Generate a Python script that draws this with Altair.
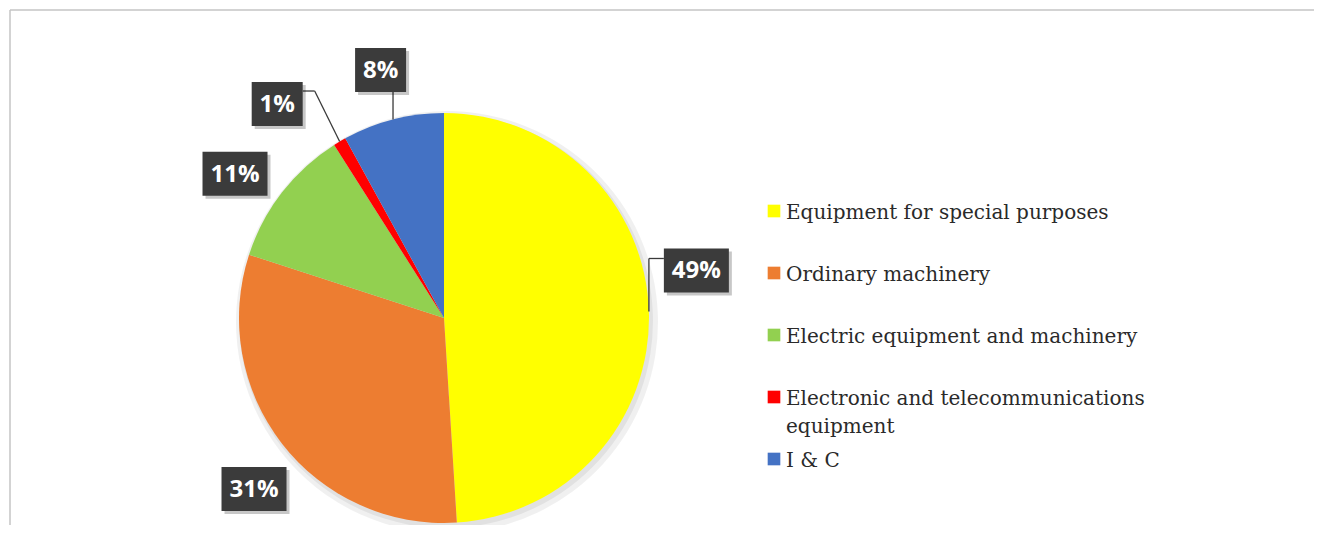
import textwrap
import altair as alt
import pandas as pd

# ---------------- data ----------------
CATEGORIES = [
    "Equipment for special purposes",
    "Ordinary machinery",
    "Electric equipment and machinery",
    "Electronic and telecommunications equipment",
    "I & C",
]
SHARES = [49, 31, 11, 1, 8]
LABELS = ["49%", "31%", "11%", "1%", "8%"]
COLORS = ["#FFFF00", "#ED7D31", "#92D050", "#FF0000", "#4472C4"]

# ---------------- styling / layout ----------------
W, H = 1306, 517
CX, CY, R = 436, 310, 205          # pie centre and radius (px)
RL = 255                           # radius of the data-label boxes
# manual nudges of each data label from its radial spot, and leader style
LABEL_STYLE = {
    "Equipment for special purposes": (-2.5, -39.5, "ur"),
    "Ordinary machinery": (11.5, 14.7, "none"),
    "Electric equipment and machinery": (-7.5, 12.0, "none"),
    "Electronic and telecommunications equipment": (-37.0, 5.5, "dl"),
    "I & C": (0.0, -1.0, "v"),
}

df = pd.DataFrame({
    "cat": CATEGORIES,
    "share": SHARES,
    "label": LABELS,
    "idx": list(range(len(CATEGORIES))),
    "legend_text": ["\n".join(textwrap.wrap(c, 34)) for c in CATEGORIES],
})
df["nx"] = [LABEL_STYLE[c][0] for c in CATEGORIES]
df["ny"] = [LABEL_STYLE[c][1] for c in CATEGORIES]
df["leader"] = [LABEL_STYLE[c][2] for c in CATEGORIES]

color_scale = alt.Scale(domain=CATEGORIES, range=COLORS)
xs = alt.Scale(domain=[0, W], nice=False, zero=False)
ys = alt.Scale(domain=[0, H], nice=False, zero=False, reverse=True)


def X(f):
    return alt.X(f, type="quantitative", scale=xs, axis=None)


def Y(f):
    return alt.Y(f, type="quantitative", scale=ys, axis=None)


base = alt.Chart(df)

geo = (
    base.transform_window(cum="sum(share)", sort=[alt.SortField("idx")], frame=[None, 0])
    .transform_joinaggregate(total="sum(share)")
    .transform_calculate(
        a="2*PI*(datum.cum - datum.share/2)/datum.total",
    )
    .transform_calculate(
        ex=f"{CX} + {R}*sin(datum.a)",
        ey=f"{CY} - {R}*cos(datum.a)",
        lx=f"{CX} + {RL}*sin(datum.a) + datum.nx",
        ly=f"{CY} - {RL}*cos(datum.a) + datum.ny",
        w="37 + 14*(length(datum.label) - 1)",
    )
    .transform_calculate(
        bx1="datum.lx - datum.w/2",
        bx2="datum.lx + datum.w/2",
        by1="datum.ly - 22",
        by2="datum.ly + 22",
    )
    .transform_calculate(
        sx1="datum.bx1 + 3",
        sx2="datum.bx2 + 3",
        sy1="datum.by1 + 3",
        sy2="datum.by2 + 3",
        kx="datum.leader == 'dl' ? datum.bx2 + 12 : datum.ex",
        ky="datum.leader == 'v' ? datum.by2 : (datum.leader == 'ur' ? datum.by1 + 10 : datum.by1 + 9)",
        tx="datum.leader == 'ur' ? datum.bx1 : (datum.leader == 'dl' ? datum.bx2 : datum.ex)",
    )
)

# frame lines of the original figure (top and left edges)
fdata = alt.Chart(pd.DataFrame({"f": [0]}))
frame_top = fdata.mark_rule(color="#c4c4c4", strokeWidth=1.5).encode(
    x=alt.value(2), x2=alt.value(W), y=alt.value(2)
)
frame_left = fdata.mark_rule(color="#c4c4c4", strokeWidth=1.5).encode(
    x=alt.value(2), y=alt.value(2), y2=alt.value(H)
)

pie_shadow = base.mark_arc(outerRadius=211, color="#000000", opacity=0.06).encode(
    theta=alt.Theta("share:Q", stack=True),
    order=alt.Order("idx:Q"),
    x=alt.value(CX + 3),
    y=alt.value(CY + 4),
)
pie_shadow2 = base.mark_arc(outerRadius=207, color="#000000", opacity=0.06).encode(
    theta=alt.Theta("share:Q", stack=True),
    order=alt.Order("idx:Q"),
    x=alt.value(CX + 2),
    y=alt.value(CY + 3),
)

pie = base.mark_arc(outerRadius=R, stroke=None).encode(
    theta=alt.Theta("share:Q", stack=True),
    color=alt.Color("cat:N", scale=color_scale, legend=None),
    order=alt.Order("idx:Q"),
    x=alt.value(CX),
    y=alt.value(CY),
)

leaders = geo.transform_filter("datum.leader != 'none'")
seg1 = leaders.mark_rule(color="#3a3a3a", strokeWidth=1.3).encode(
    x=X("ex"), y=Y("ey"), x2=alt.X2("kx"), y2=alt.Y2("ky")
)
seg2 = leaders.mark_rule(color="#3a3a3a", strokeWidth=1.3).encode(
    x=X("kx"), y=Y("ky"), x2=alt.X2("tx"), y2=alt.Y2("ky")
)

box_shadow = geo.mark_rect(color="#000000", opacity=0.22).encode(
    x=X("sx1"), x2=alt.X2("sx2"), y=Y("sy1"), y2=alt.Y2("sy2")
)
box = geo.mark_rect(color="#3b3b3b").encode(
    x=X("bx1"), x2=alt.X2("bx2"), y=Y("by1"), y2=alt.Y2("by2")
)
box_text = geo.mark_text(
    font="Open Sans", fontWeight="bold", fontSize=24, color="#ffffff",
    align="center", baseline="middle", dy=1
).encode(x=X("lx"), y=Y("ly"), text="label:N")

leg_y = alt.Y(
    "cat:N",
    scale=alt.Scale(type="point", domain=CATEGORIES, range=[203, 451], padding=0),
    axis=None,
)
leg_sq = base.mark_square(size=160, opacity=1).encode(
    x=alt.value(766),
    y=leg_y,
    color=alt.Color("cat:N", scale=color_scale, legend=None),
)
leg_txt = base.mark_text(
    align="left", baseline="alphabetic", dy=8, font="DejaVu Serif", fontSize=20,
    color="#2a2a2a", lineBreak="\n", lineHeight=28
).encode(x=alt.value(778), y=leg_y, text="legend_text:N")

chart = (
    alt.layer(
        frame_top, frame_left, pie_shadow, pie_shadow2, pie, seg1, seg2,
        box_shadow, box, box_text, leg_sq, leg_txt
    )
    .resolve_scale(y="independent")
    .properties(
        width=W, height=H, padding=0,
        autosize=alt.AutoSizeParams(type="none"),
        background="#ffffff",
    )
    .configure_view(stroke=None)
)

chart.save("out.html", embed_options={"renderer": "svg", "actions": False})
